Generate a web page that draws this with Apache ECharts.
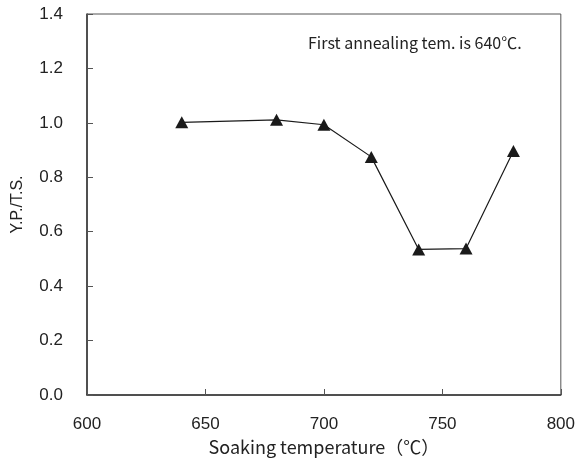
<!DOCTYPE html>
<html>
<head>
<meta charset="utf-8">
<script src="https://cdn.jsdelivr.net/npm/echarts@6/dist/echarts.min.js"></script>
<style>
  html, body { margin: 0; padding: 0; background: #fff; }
  #main { width: 578px; height: 468px; }
</style>
</head>
<body>
<div id="main"></div>
<script>
// soaking temperature (°C) and yield ratio
const temps = [640, 680, 700, 720, 740, 760, 780];
const ypts = [1.002, 1.011, 0.993, 0.875, 0.535, 0.538, 0.897];

const chart = echarts.init(document.getElementById('main'));

const option = {
  animation: false,
  grid: {
    left: 87,
    right: 17,
    top: 14,
    bottom: 73,
    show: true,
    borderColor: '#555',
    borderWidth: 1,
  },
  xAxis: {
    type: 'value',
    min: 600,
    max: 800,
    interval: 50,
    name: 'Soaking temperature（℃）',
    nameLocation: 'middle',
    nameGap: 36,
    nameTextStyle: {
      fontFamily: 'Noto Sans CJK JP',
      fontSize: 18,
      color: '#222',
    },
    axisLine: { lineStyle: { color: '#333', width: 1.5 } },
    axisTick: { inside: true, length: 6, lineStyle: { color: '#555' } },
    axisLabel: {
      margin: 21,
      fontFamily: 'Liberation Sans',
      fontSize: 17,
      color: '#222',
    },
    splitLine: { show: false },
  },
  yAxis: {
    type: 'value',
    min: 0,
    max: 1.4,
    interval: 0.2,
    name: 'Y.P./T.S.',
    nameLocation: 'middle',
    nameGap: 61,
    nameTextStyle: {
      fontFamily: 'Liberation Sans',
      fontSize: 16,
      color: '#222',
    },
    axisLine: { lineStyle: { color: '#333', width: 1.5 } },
    axisTick: { inside: true, length: 6, lineStyle: { color: '#555' } },
    axisLabel: {
      margin: 24,
      fontFamily: 'Liberation Sans',
      fontSize: 17,
      color: '#222',
      formatter: v => v.toFixed(1),
    },
    splitLine: { show: false },
  },
  graphic: [
    {
      type: 'text',
      left: 308,
      top: 35,
      style: {
        text: 'First annealing tem. is 640℃.',
        font: '16px "Noto Sans CJK JP"',
        fill: '#222',
      },
    },
  ],
  series: [
    {
      type: 'line',
      data: temps.map((t, i) => [t, ypts[i]]),
      symbol: 'triangle',
      symbolSize: [13, 12],
      itemStyle: { color: '#1a1a1a' },
      lineStyle: { color: '#1a1a1a', width: 1.2 },
    },
  ],
};

chart.setOption(option);
</script>
</body>
</html>
